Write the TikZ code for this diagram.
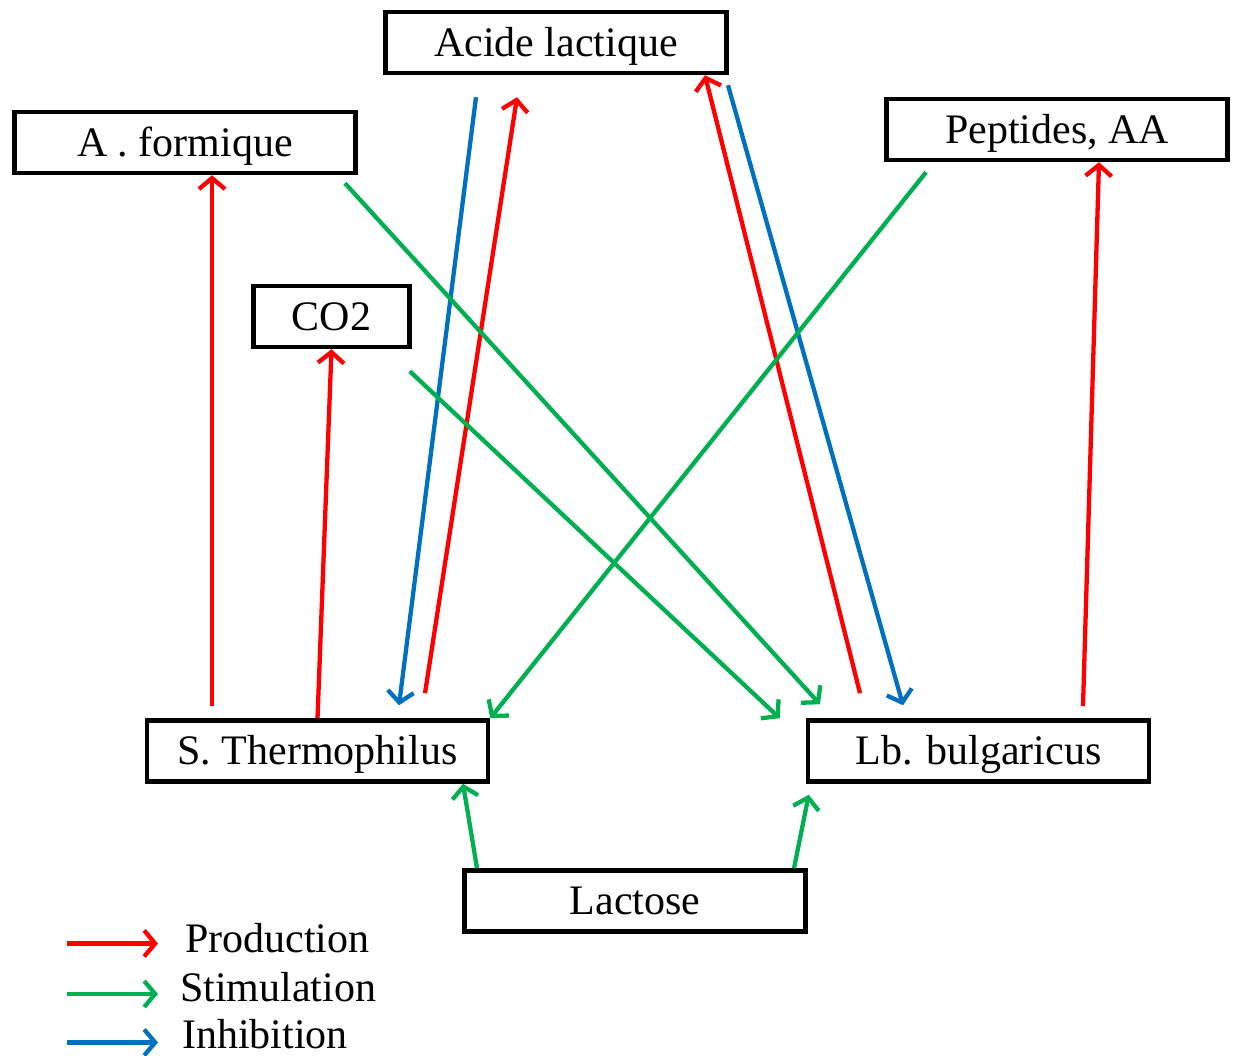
\documentclass[tikz,border=0pt]{standalone}
\usepackage{fontspec}
\setmainfont{Liberation Serif}
\usetikzlibrary{arrows.meta,positioning}
\definecolor{prodred}{RGB}{255,0,0}
\definecolor{stimgreen}{RGB}{0,176,80}
\definecolor{inhblue}{RGB}{0,112,192}

\begin{document}
\begin{tikzpicture}[x=1pt,y=1pt,
    txt/.style={font=\fontsize{42}{48}\selectfont},
    box/.style={txt,draw,line width=4.5pt,minimum width=341pt,minimum height=61pt,
      inner sep=0pt,text height=27.8pt,text depth=0pt},
    link/.style={line width=4.3pt,-{Straight Barb[length=11pt,width=26pt]}},
    prod/.style={link,prodred},
    stim/.style={link,stimgreen},
    inh/.style={link,inhblue}]
  \useasboundingbox (0,0) rectangle (1234,1056);
  % products (top)
  \node[box] (acide) at (556,1013.5) {Acide lactique};
  \node[box] (formique) at (185,913.5) {A . formique};
  \node[box] (peptides) at (1057,926.5) {Peptides, AA};
  \node[box,minimum width=156pt] (co2) at (331.5,739.5) {CO2};
  % bacteria
  \node[box] (sth) at (317.5,305) {S. Thermophilus};
  \node[box] (lbb) at (978.5,305) {Lb. bulgaricus};
  \node[box] (lactose) at (635,155) {Lactose};
  % production
  \draw[prod] ([xshift=-105.5pt,yshift=12pt]sth.north) -- ([xshift=27pt]formique.south);
  \draw[prod] (sth.north) -- (co2.south);
  \draw[prod] ([xshift=107.5pt,yshift=25pt]sth.north) -- ([xshift=-39pt,yshift=-22pt]acide.south);
  \draw[prod] ([xshift=-118.5pt,yshift=25pt]lbb.north) -- ([xshift=149pt]acide.south);
  \draw[prod] ([xshift=104.5pt,yshift=12pt]lbb.north) -- ([xshift=42pt]peptides.south);
  % inhibition
  \draw[inh] ([xshift=-80pt,yshift=-22pt]acide.south) -- ([xshift=81.5pt,yshift=13pt]sth.north);
  \draw[inh] ([xshift=172pt,yshift=-10pt]acide.south) -- ([xshift=-75.5pt,yshift=13pt]lbb.north);
  % stimulation
  \draw[stim] ([xshift=160pt,yshift=-8pt]formique.south) -- ([xshift=-158.5pt,yshift=14pt]lbb.north);
  \draw[stim] ([xshift=-2pt,yshift=-22pt]co2.south east) -- ([xshift=-26pt]lbb.north west);
  \draw[stim] ([xshift=-131pt,yshift=-10pt]peptides.south) -- (sth.north east);
  \draw[stim] ([xshift=-158pt]lactose.north) -- ([xshift=145.5pt]sth.south);
  \draw[stim] ([xshift=159pt]lactose.north) -- ([xshift=3pt,yshift=-11pt]lbb.south west);
  % legend
  \foreach \X/\B/\S/\T [count=\i] in {185/103/prod/Production,
      180/54/stim/Stimulation,182/7/inh/Inhibition}
    {\node[txt,anchor=base west,inner sep=0pt] (leg\i) at (\X,\B) {\T};
     \draw[\S] (67,\B+11-\i*1.5) -- (158,\B+11-\i*1.5);}
\end{tikzpicture}
\end{document}
